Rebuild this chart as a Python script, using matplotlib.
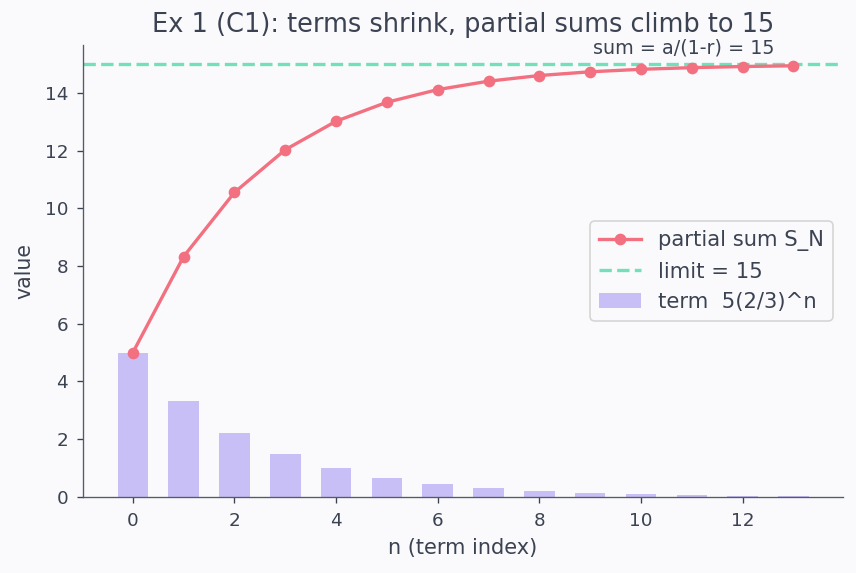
import numpy as np
import matplotlib
matplotlib.use("Agg")
import matplotlib.pyplot as plt

n = list(range(14))
terms = [5.0, 3.333, 2.222, 1.481, 0.988, 0.658, 0.439, 0.293, 0.195, 0.130, 0.087, 0.058, 0.039, 0.026]
partial = [5.0, 8.333, 10.556, 12.037, 13.025, 13.683, 14.122, 14.415, 14.610, 14.740, 14.827, 14.884, 14.923, 14.949]
limit = 15

bg = "#fafafd"
txt = "#3b4252"

plt.rcParams["font.family"] = "DejaVu Sans"
fig, ax = plt.subplots(figsize=(856 / 120, 573 / 120), dpi=120)
fig.patch.set_facecolor(bg)
ax.set_facecolor(bg)

ax.plot(n, partial, "-o", color="#f2707f", lw=2, ms=6, label="partial sum S_N", zorder=3)
ax.axhline(limit, color="#72e0b8", ls="--", lw=2, label="limit = 15", zorder=2)
ax.bar(n, terms, width=0.6, color="#c9bff7", label="term  5(2/3)^n", zorder=2)
ax.set_ylim(0, 15.66)

ax.text(12.62, limit + 0.22, "sum = a/(1-r) = 15", ha="right", va="bottom", fontsize=11.5, color=txt)

ax.set_title("Ex 1 (C1): terms shrink, partial sums climb to 15", fontsize=15.4, color=txt, pad=8)
ax.set_xlabel("n (term index)", fontsize=12.5, color=txt, labelpad=5)
ax.set_ylabel("value", fontsize=12.3, color=txt, labelpad=6)
ax.tick_params(colors=txt, labelsize=11, pad=5.5)
for s in ["top", "right"]:
    ax.spines[s].set_visible(False)
for s in ["left", "bottom"]:
    ax.spines[s].set_color("#555a66")

leg = ax.legend(loc="center right", fontsize=12.7, labelcolor=txt)
leg.get_frame().set_facecolor(bg)

fig.subplots_adjust(left=0.097, right=0.985, top=0.921, bottom=0.133)
fig.savefig("out.png", dpi=120, facecolor=bg)
